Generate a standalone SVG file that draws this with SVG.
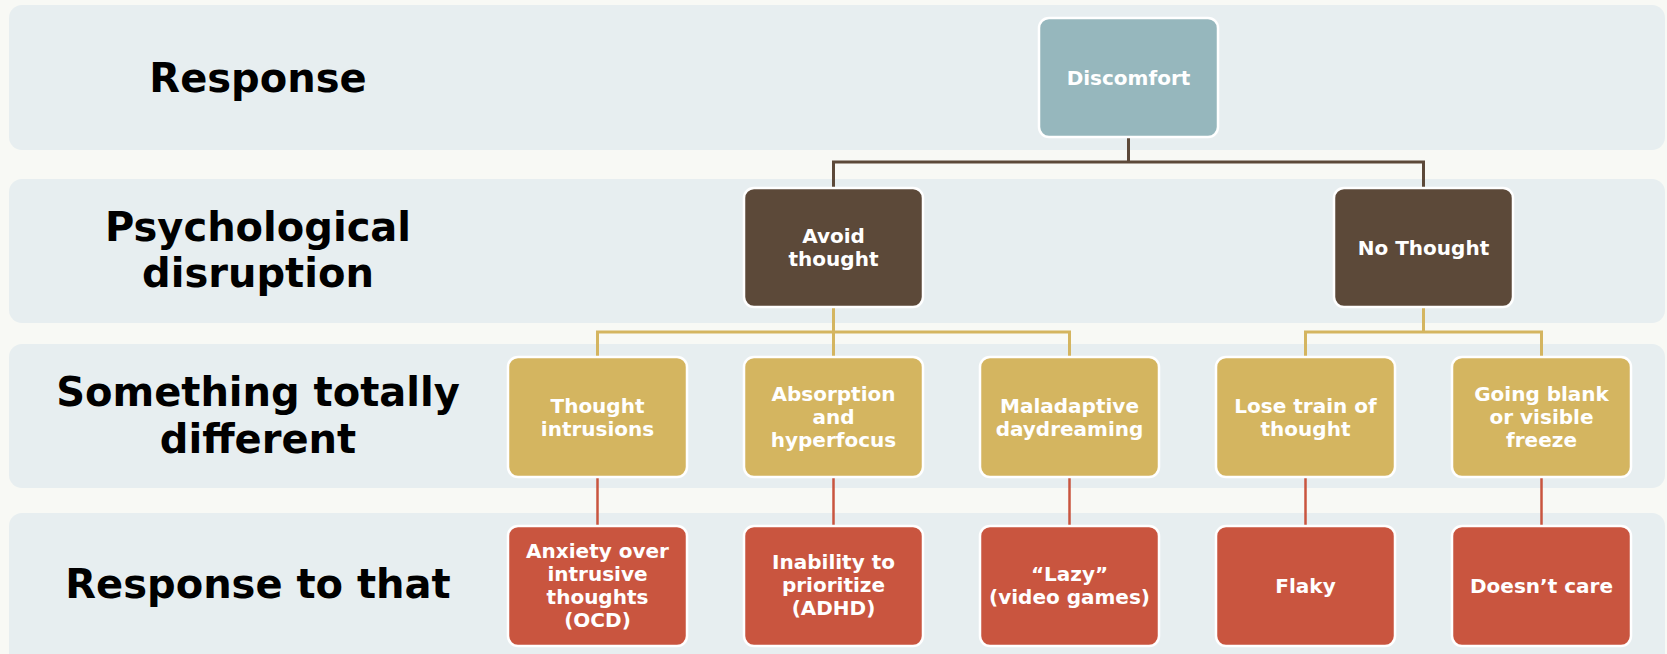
<svg xmlns="http://www.w3.org/2000/svg" width="1667" height="654" viewBox="0 0 1667 654">
<style>
.lane{fill:#e7eef0}
.lbl{font-family:"DejaVu Sans",sans-serif;font-weight:700;font-size:40px;fill:#000;text-anchor:middle}
.node rect{stroke:#ffffff;stroke-width:2.5}
.node text{font-family:"DejaVu Sans",sans-serif;font-weight:700;font-size:20px;fill:#ffffff;text-anchor:middle}
.blue rect{fill:#96b7bd}
.brown rect{fill:#5c4939}
.gold rect{fill:#d4b560}
.red rect{fill:#c9553f}
.c{fill:none}
</style>
<rect x="0" y="0" width="1667" height="654" fill="#f8f9f5"/>
<g id="lanes">
<rect class="lane" x="9" y="5" width="1656" height="145" rx="13"/>
<rect class="lane" x="9" y="179" width="1656" height="144" rx="13"/>
<rect class="lane" x="9" y="344" width="1656" height="144" rx="13"/>
<rect class="lane" x="9" y="513" width="1656" height="160" rx="13"/>
</g>
<g id="lane-labels">
<text class="lbl" x="258" y="92">Response</text>
<text class="lbl" x="258" y="241">Psychological</text>
<text class="lbl" x="258" y="287">disruption</text>
<text class="lbl" x="258" y="406">Something totally</text>
<text class="lbl" x="258" y="453">different</text>
<text class="lbl" x="258" y="598">Response to that</text>
</g>
<g id="connectors" class="c">
<path d="M1128.5 137 V162 M833.5 187 V162 H1423.5 V187" stroke="#5c4939" stroke-width="3"/>
<path d="M833.5 307 V332 M597.5 357 V332 H1069.5 V357 M833.5 332 V357" stroke="#d4b560" stroke-width="3"/>
<path d="M1423.5 307 V332 M1305.5 357 V332 H1541.5 V357" stroke="#d4b560" stroke-width="3"/>
<path d="M597.5 477 V526 M833.5 477 V526 M1069.5 477 V526 M1305.5 477 V526 M1541.5 477 V526" stroke="#c9553f" stroke-width="2.5"/>
</g>
<g id="n-discomfort" class="node blue">
<rect x="1039" y="18" width="179" height="119" rx="10"/>
<text x="1128.5" y="84.5">Discomfort</text>
</g>
<g id="n-avoid" class="node brown">
<rect x="744" y="188" width="179" height="119" rx="10"/>
<text x="833.5" y="243">Avoid</text>
<text x="833.5" y="266">thought</text>
</g>
<g id="n-nothought" class="node brown">
<rect x="1334" y="188" width="179" height="119" rx="10"/>
<text x="1423.5" y="254.5">No Thought</text>
</g>
<g id="n-intrusions" class="node gold">
<rect x="508" y="357" width="179" height="120" rx="10"/>
<text x="597.5" y="412.5">Thought</text>
<text x="597.5" y="435.5">intrusions</text>
</g>
<g id="n-absorption" class="node gold">
<rect x="744" y="357" width="179" height="120" rx="10"/>
<text x="833.5" y="401">Absorption</text>
<text x="833.5" y="424">and</text>
<text x="833.5" y="447">hyperfocus</text>
</g>
<g id="n-maladaptive" class="node gold">
<rect x="980" y="357" width="179" height="120" rx="10"/>
<text x="1069.5" y="412.5">Maladaptive</text>
<text x="1069.5" y="435.5">daydreaming</text>
</g>
<g id="n-losetrain" class="node gold">
<rect x="1216" y="357" width="179" height="120" rx="10"/>
<text x="1305.5" y="412.5">Lose train of</text>
<text x="1305.5" y="435.5">thought</text>
</g>
<g id="n-goingblank" class="node gold">
<rect x="1452" y="357" width="179" height="120" rx="10"/>
<text x="1541.5" y="401">Going blank</text>
<text x="1541.5" y="424">or visible</text>
<text x="1541.5" y="447">freeze</text>
</g>
<g id="n-anxiety" class="node red">
<rect x="508" y="526" width="179" height="120" rx="10"/>
<text x="597.5" y="558">Anxiety over</text>
<text x="597.5" y="581">intrusive</text>
<text x="597.5" y="604">thoughts</text>
<text x="597.5" y="627">(OCD)</text>
</g>
<g id="n-inability" class="node red">
<rect x="744" y="526" width="179" height="120" rx="10"/>
<text x="833.5" y="569">Inability to</text>
<text x="833.5" y="592">prioritize</text>
<text x="833.5" y="615">(ADHD)</text>
</g>
<g id="n-lazy" class="node red">
<rect x="980" y="526" width="179" height="120" rx="10"/>
<text x="1069.5" y="581">“Lazy”</text>
<text x="1069.5" y="604">(video games)</text>
</g>
<g id="n-flaky" class="node red">
<rect x="1216" y="526" width="179" height="120" rx="10"/>
<text x="1305.5" y="593">Flaky</text>
</g>
<g id="n-doesntcare" class="node red">
<rect x="1452" y="526" width="179" height="120" rx="10"/>
<text x="1541.5" y="593">Doesn’t care</text>
</g>
</svg>
